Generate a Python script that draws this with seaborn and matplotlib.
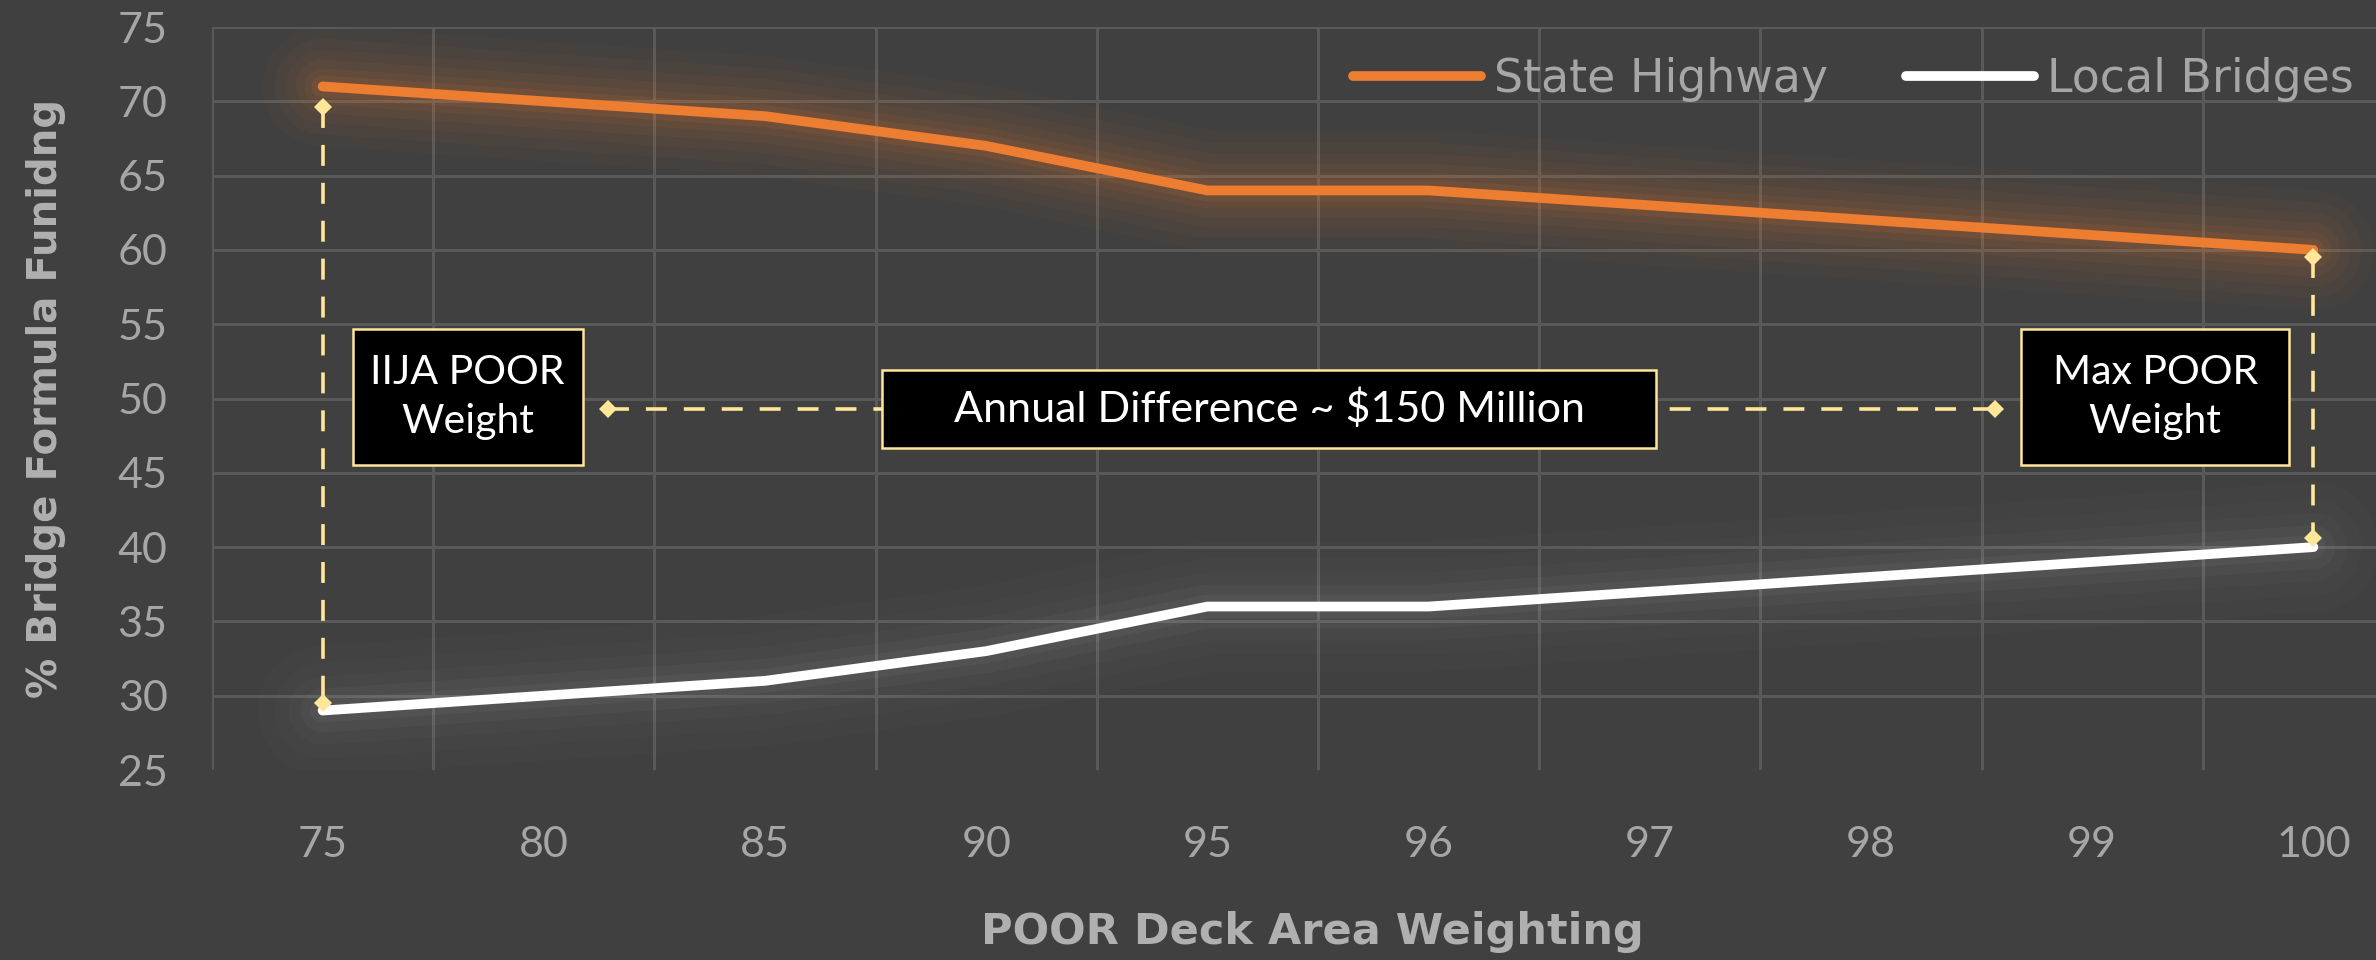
import numpy as np
import pandas as pd
import matplotlib
matplotlib.use("Agg")
import matplotlib.pyplot as plt
from matplotlib.patches import Rectangle
from matplotlib.lines import Line2D
import seaborn as sns

# ---------------- data ----------------
categories = ["75", "80", "85", "90", "95", "96", "97", "98", "99", "100"]
state_highway = [71, 70, 69, 67, 64, 64, 63, 62, 61, 60]
local_bridges = [29, 30, 31, 33, 36, 36, 37, 38, 39, 40]
series_names = ["State Highway", "Local Bridges"]
y_ticks = [25, 30, 35, 40, 45, 50, 55, 60, 65, 70, 75]
x_title = "POOR Deck Area Weighting"
y_title = "% Bridge Formula Funidng"
box_left_text = "IIJA POOR\nWeight"
box_mid_text = "Annual Difference ~ $150 Million"
box_right_text = "Max POOR\nWeight"

# ---------------- style ----------------
BG = "#404040"
GRID = "#595959"
TICK = "#a6a6a6"
ORANGE = "#ED7D31"
WHITE = "#FFFFFF"
YELLOW = "#FFE699"

sns.set_theme(style="dark")
plt.rcParams["font.family"] = ["Lato", "DejaVu Sans"]

df = pd.DataFrame({
    "pos": list(range(len(categories))) * 2,
    "value": state_highway + local_bridges,
    "series": [series_names[0]] * len(categories) + [series_names[1]] * len(categories),
})

fig = plt.figure(figsize=(23.76, 9.6), dpi=100, facecolor=BG)
ax = fig.add_axes([212 / 2376, 1 - 770 / 960, (2424 - 212) / 2376, (770 - 27) / 960])
ax.set_facecolor(BG)

# glow layers (drawn from the same data)
x_idx = np.arange(len(categories))
for w, a in [(120, 0.03), (96, 0.035), (74, 0.045), (54, 0.055), (36, 0.07), (22, 0.09)]:
    ax.plot(x_idx, state_highway, color=ORANGE, lw=w / 1.389, alpha=a,
            solid_capstyle="round", solid_joinstyle="round", zorder=1)
for w, a in [(130, 0.013), (96, 0.016), (68, 0.021), (44, 0.028), (24, 0.036)]:
    ax.plot(x_idx, local_bridges, color=WHITE, lw=w / 1.389, alpha=a,
            solid_capstyle="round", solid_joinstyle="round", zorder=1)

sns.lineplot(data=df, x="pos", y="value", hue="series",
             palette={series_names[0]: ORANGE, series_names[1]: WHITE},
             linewidth=7.0, ax=ax, legend=False, zorder=3)

# axes / grid
ax.set_xlim(-0.5, len(categories) - 0.5)
ax.set_ylim(y_ticks[0], y_ticks[-1])
ax.set_yticks(y_ticks)
ax.set_xticks(x_idx)
ax.set_xticklabels(categories)
ax.set_xticks(np.arange(-0.5, len(categories), 1), minor=True)
ax.grid(False)
ax.yaxis.grid(True, which="major", color=GRID, lw=2.2, zorder=0)
ax.xaxis.grid(True, which="minor", color=GRID, lw=2.2, zorder=0)
ax.yaxis.get_gridlines()[0].set_visible(False)
for s in ax.spines.values():
    s.set_visible(False)
ax.tick_params(axis="both", which="both", length=0, colors=TICK, labelsize=31)
ax.tick_params(axis="y", pad=32)
ax.tick_params(axis="x", pad=40)
ax.set_axisbelow(True)

ax.set_xlabel(x_title, fontsize=31, fontweight="bold", color="#b0b0b0",
              family="DejaVu Sans")
ax.set_ylabel(y_title, fontsize=29, fontweight="bold", color="#b0b0b0",
              family="DejaVu Sans")
ax.xaxis.set_label_coords((1312 - 212) / (2424 - 212), -0.19)
ax.yaxis.set_label_coords((66 - 212) / (2424 - 212), 0.5)

# legend
handles = [Line2D([0], [0], color=ORANGE, lw=7.0), Line2D([0], [0], color=WHITE, lw=7.0)]
leg = fig.legend(handles, series_names, loc="center right",
                 bbox_to_anchor=(2354 / 2376, 1 - 80 / 960), ncol=2, frameon=False,
                 handlelength=2.8, handletextpad=0.28, columnspacing=1.7,
                 borderpad=0, borderaxespad=0, prop={"family": "DejaVu Sans", "size": 33})
for t in leg.get_texts():
    t.set_color(TICK)

# ---------------- annotations ----------------
last = len(categories) - 1
dash_kw = dict(color=YELLOW, lw=2.6, dashes=(5.8, 4.7), zorder=4,
               marker="D", markersize=9, markevery=[0, 1], markeredgewidth=0)
# left vertical bracket
ax.plot([0, 0], [state_highway[0] - 1.4, local_bridges[0] + 0.5], **dash_kw)
# right vertical bracket
ax.plot([last, last], [state_highway[last] - 0.5, local_bridges[last] + 0.6], **dash_kw)
# horizontal difference arrow
diff_y = 49.3
ax.plot([1.29, 7.56], [diff_y, diff_y], **dash_kw)

def box(x0, x1, y0, y1, text, size):
    ax.add_patch(Rectangle((x0, y0), x1 - x0, y1 - y0, facecolor="black",
                           edgecolor=YELLOW, lw=1.8, zorder=5))
    ax.text((x0 + x1) / 2, (y0 + y1) / 2, text, ha="center", va="center",
            color="white", fontsize=size, zorder=6, linespacing=1.4)

box(0.136, 1.176, 45.5, 54.7, box_left_text, 29.5)
box(2.53, 6.03, 46.7, 51.9, box_mid_text, 31)
box(7.68, 8.89, 45.5, 54.7, box_right_text, 29.5)

fig.savefig("out.png", dpi=100, facecolor=BG)
